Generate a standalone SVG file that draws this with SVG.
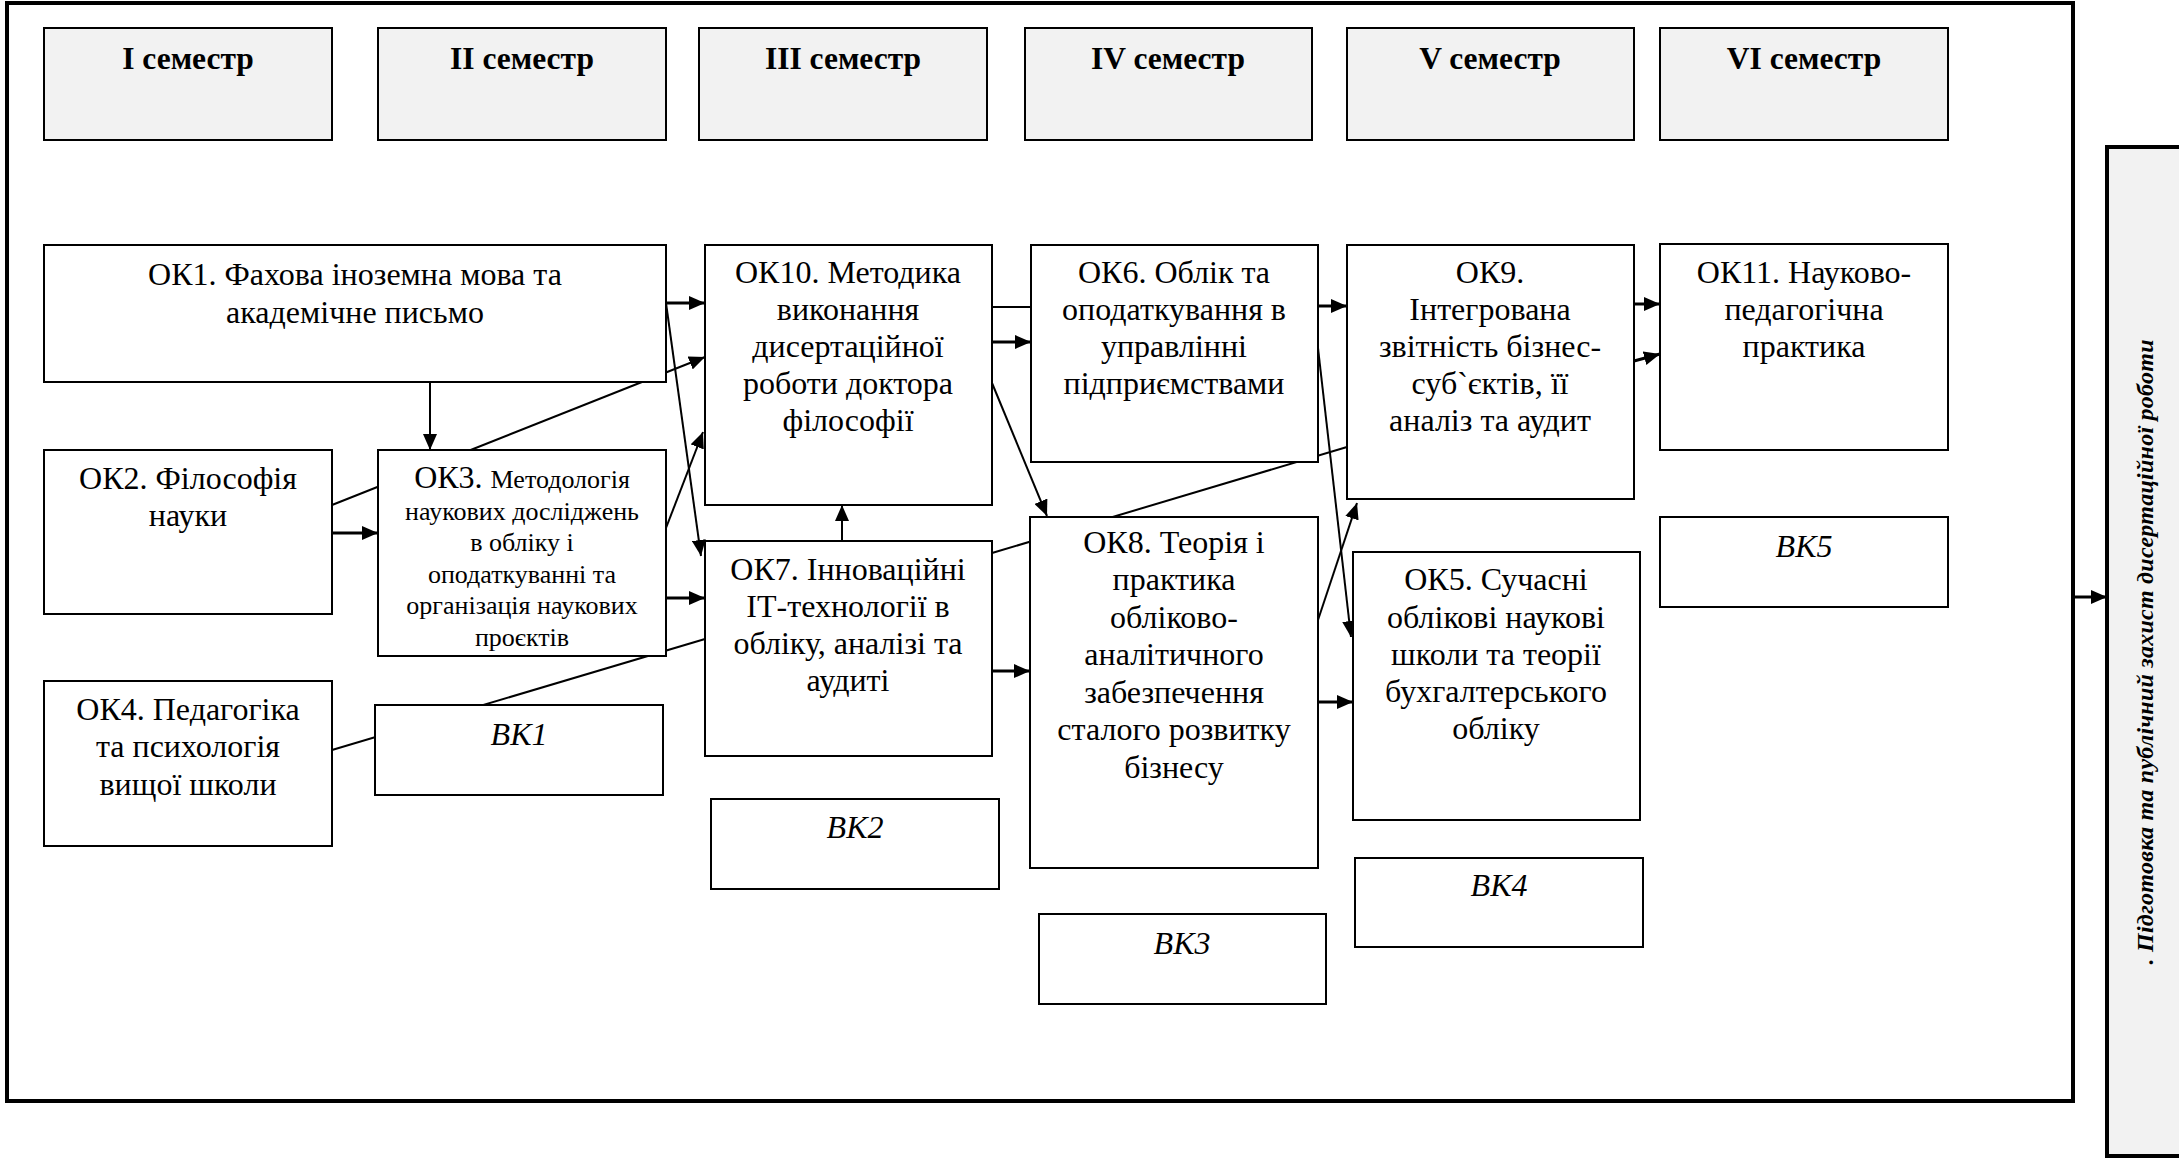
<svg xmlns="http://www.w3.org/2000/svg" width="2179" height="1160" viewBox="0 0 2179 1160">
<defs>
<marker id="ah" markerUnits="userSpaceOnUse" markerWidth="16" markerHeight="14" refX="16" refY="7" orient="auto"><path d="M0,0 L16,7 L0,14 z" fill="#000"/></marker>
</defs>
<style>
text{font-family:"Liberation Serif","Times New Roman",serif}
.t{font-size:32px;fill:#000;text-anchor:middle}
.b{font-weight:bold;font-size:31.5px}
.i{font-style:italic}
.s{font-size:26px}
.bx{fill:#fff;stroke:#000;stroke-width:2}
.hd{fill:#f2f2f2;stroke:#000;stroke-width:2}
.c{stroke:#000;stroke-width:2;fill:none}
.ca{stroke:#000;stroke-width:2;fill:none;marker-end:url(#ah)}
.cw{stroke:#000;stroke-width:3;fill:none;marker-end:url(#ah)}
</style>
<rect x="0" y="0" width="2179" height="1160" fill="#fff"/>
<rect id="frame" x="7" y="3" width="2066" height="1098" fill="none" stroke="#000" stroke-width="4"/>

<g id="connectors">
<line class="cw" x1="666" y1="303" x2="705" y2="303"/>
<line class="ca" x1="430" y1="382" x2="430" y2="450"/>
<line class="cw" x1="332" y1="533" x2="378" y2="533"/>
<line class="ca" x1="332" y1="505" x2="705" y2="357"/>
<line class="ca" x1="666" y1="303" x2="701" y2="556"/>
<line class="ca" x1="666" y1="528" x2="703" y2="432"/>
<line class="cw" x1="666" y1="598" x2="705" y2="598"/>
<line class="c" x1="332" y1="750" x2="705" y2="639"/>
<line class="ca" x1="842" y1="541" x2="842" y2="505"/>
<line class="cw" x1="992" y1="671" x2="1030" y2="671"/>
<line class="c" x1="992" y1="307" x2="1031" y2="307" stroke-width="3"/>
<line class="cw" x1="992" y1="342" x2="1031" y2="342"/>
<line class="ca" x1="992" y1="383" x2="1047" y2="516"/>
<line class="cw" x1="1318" y1="306" x2="1347" y2="306"/>
<line class="c" x1="992" y1="553" x2="1347" y2="447"/>
<line class="ca" x1="1318" y1="348" x2="1351" y2="637"/>
<line class="ca" x1="1318" y1="620" x2="1357" y2="503"/>
<line class="cw" x1="1318" y1="702" x2="1353" y2="702"/>
<line class="cw" x1="1634" y1="304" x2="1660" y2="304"/>
<line class="cw" x1="1634" y1="361" x2="1660" y2="354"/>
<line class="cw" x1="2075" y1="597" x2="2107" y2="597"/>
</g>

<g id="sem1"><rect class="hd" x="44" y="28" width="288" height="112"/><text class="t b" x="188" y="69">I семестр</text></g>
<g id="sem2"><rect class="hd" x="378" y="28" width="288" height="112"/><text class="t b" x="522" y="69">II семестр</text></g>
<g id="sem3"><rect class="hd" x="699" y="28" width="288" height="112"/><text class="t b" x="843" y="69">III семестр</text></g>
<g id="sem4"><rect class="hd" x="1025" y="28" width="287" height="112"/><text class="t b" x="1168" y="69">IV семестр</text></g>
<g id="sem5"><rect class="hd" x="1347" y="28" width="287" height="112"/><text class="t b" x="1490" y="69">V семестр</text></g>
<g id="sem6"><rect class="hd" x="1660" y="28" width="288" height="112"/><text class="t b" x="1804" y="69">VI семестр</text></g>

<g id="ok1"><rect class="bx" x="44" y="245" width="622" height="137"/>
<text class="t" x="355" y="285">ОК1. Фахова іноземна мова та</text>
<text class="t" x="355" y="323">академічне письмо</text></g>

<g id="ok10"><rect class="bx" x="705" y="245" width="287" height="260"/>
<text class="t" x="848" y="283">ОК10. Методика</text>
<text class="t" x="848" y="320">виконання</text>
<text class="t" x="848" y="357">дисертаційної</text>
<text class="t" x="848" y="394">роботи доктора</text>
<text class="t" x="848" y="431">філософії</text></g>

<g id="ok6"><rect class="bx" x="1031" y="245" width="287" height="217"/>
<text class="t" x="1174" y="283">ОК6. Облік та</text>
<text class="t" x="1174" y="320">оподаткування в</text>
<text class="t" x="1174" y="357">управлінні</text>
<text class="t" x="1174" y="394">підприємствами</text></g>

<g id="ok9"><rect class="bx" x="1347" y="245" width="287" height="254"/>
<text class="t" x="1490" y="283">ОК9.</text>
<text class="t" x="1490" y="320">Інтегрована</text>
<text class="t" x="1490" y="357">звітність бізнес-</text>
<text class="t" x="1490" y="394">суб`єктів, її</text>
<text class="t" x="1490" y="431">аналіз та аудит</text></g>

<g id="ok11"><rect class="bx" x="1660" y="244" width="288" height="206"/>
<text class="t" x="1804" y="283">ОК11. Науково-</text>
<text class="t" x="1804" y="320">педагогічна</text>
<text class="t" x="1804" y="357">практика</text></g>

<g id="ok2"><rect class="bx" x="44" y="450" width="288" height="164"/>
<text class="t" x="188" y="489">ОК2. Філософія</text>
<text class="t" x="188" y="526">науки</text></g>

<g id="ok3"><rect class="bx" x="378" y="450" width="288" height="206"/>
<text class="t" x="522" y="488">ОК3. <tspan class="s">Методологія</tspan></text>
<text class="t s" x="522" y="520">наукових досліджень</text>
<text class="t s" x="522" y="551">в обліку і</text>
<text class="t s" x="522" y="583">оподаткуванні та</text>
<text class="t s" x="522" y="614">організація наукових</text>
<text class="t s" x="522" y="646">проєктів</text></g>

<g id="ok7"><rect class="bx" x="705" y="541" width="287" height="215"/>
<text class="t" x="848" y="580">ОК7. Інноваційні</text>
<text class="t" x="848" y="617">ІТ-технології в</text>
<text class="t" x="848" y="654">обліку, аналізі та</text>
<text class="t" x="848" y="691">аудиті</text></g>

<g id="ok8"><rect class="bx" x="1030" y="517" width="288" height="351"/>
<text class="t" x="1174" y="553">ОК8. Теорія і</text>
<text class="t" x="1174" y="590">практика</text>
<text class="t" x="1174" y="628">обліково-</text>
<text class="t" x="1174" y="665">аналітичного</text>
<text class="t" x="1174" y="703">забезпечення</text>
<text class="t" x="1174" y="740">сталого розвитку</text>
<text class="t" x="1174" y="778">бізнесу</text></g>

<g id="ok5"><rect class="bx" x="1353" y="552" width="287" height="268"/>
<text class="t" x="1496" y="590">ОК5. Сучасні</text>
<text class="t" x="1496" y="628">облікові наукові</text>
<text class="t" x="1496" y="665">школи та теорії</text>
<text class="t" x="1496" y="702">бухгалтерського</text>
<text class="t" x="1496" y="739">обліку</text></g>

<g id="ok4"><rect class="bx" x="44" y="681" width="288" height="165"/>
<text class="t" x="188" y="720">ОК4. Педагогіка</text>
<text class="t" x="188" y="757">та психологія</text>
<text class="t" x="188" y="795">вищої школи</text></g>

<g id="vk1"><rect class="bx" x="375" y="705" width="288" height="90"/><text class="t i" x="519" y="745">ВК1</text></g>
<g id="vk2"><rect class="bx" x="711" y="799" width="288" height="90"/><text class="t i" x="855" y="838">ВК2</text></g>
<g id="vk3"><rect class="bx" x="1039" y="914" width="287" height="90"/><text class="t i" x="1182" y="954">ВК3</text></g>
<g id="vk4"><rect class="bx" x="1355" y="858" width="288" height="89"/><text class="t i" x="1499" y="896">ВК4</text></g>
<g id="vk5"><rect class="bx" x="1660" y="517" width="288" height="90"/><text class="t i" x="1804" y="557">ВК5</text></g>

<g id="defence"><rect x="2107" y="147" width="90" height="1009" fill="#f2f2f2" stroke="#000" stroke-width="4"/>
<text class="t i" style="font-size:24px;font-weight:bold" transform="translate(2153,652) rotate(-90)" x="0" y="0" textLength="625" lengthAdjust="spacing">. Підготовка та публічний захист дисертаційної роботи</text></g>
</svg>
